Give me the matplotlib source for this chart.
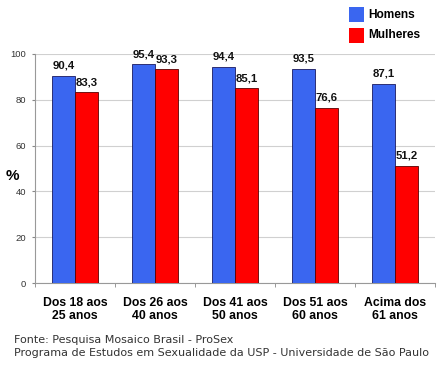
import matplotlib.pyplot as plt
import numpy as np
from matplotlib.patches import Rectangle

# Data
categories = ['Dos 18 aos\n25 anos', 'Dos 26 aos\n40 anos', 'Dos 41 aos\n50 anos',
              'Dos 51 aos\n60 anos', 'Acima dos\n61 anos']
homens = [90.4, 95.4, 94.4, 93.5, 87.1]
mulheres = [83.3, 93.3, 85.1, 76.6, 51.2]
series_names = ['Homens', 'Mulheres']
yticks = [0, 20, 40, 60, 80, 100]

blue = '#3a66f0'
red = '#ff0000'
font = 'Liberation Sans'

fig = plt.figure(figsize=(4.48, 3.72), dpi=100)
ax = fig.add_axes([0.078, 0.239, 0.893, 0.616])

x = np.arange(len(categories))
w = 0.285
ax.bar(x - w / 2, homens, w, color=blue, edgecolor='#1a1a60', linewidth=0.6, zorder=3)
ax.bar(x + w / 2, mulheres, w, color=red, edgecolor='#5a0000', linewidth=0.6, zorder=3)

# value labels
for xi, v in zip(x - w / 2, homens):
    ax.text(xi, v + 2.2, f'{v:.1f}'.replace('.', ','), ha='center', va='bottom',
            fontsize=8.2, fontweight='bold', family=font, color='#111111')
for xi, v in zip(x + w / 2, mulheres):
    ax.text(xi, v + 2.2, f'{v:.1f}'.replace('.', ','), ha='center', va='bottom',
            fontsize=8.2, fontweight='bold', family=font, color='#111111')

ax.set_xlim(-0.5, len(categories) - 0.5)
ax.set_ylim(0, 100)
ax.set_yticks(yticks)
ax.set_yticklabels([str(t) for t in yticks], fontsize=6.8, family=font, color='#333333')
ax.yaxis.grid(True, color='#d0d0d0', linewidth=0.8, zorder=0)
ax.tick_params(axis='y', length=2.5, color='#888888', pad=4)

ax.set_xticks(x)
ax.set_xticklabels(categories, fontsize=8.8, fontweight='bold', family=font,
                   linespacing=1.1)
ax.tick_params(axis='x', length=0, pad=10)
# small ticks at category boundaries
ax.set_xticks(np.arange(len(categories) + 1) - 0.5, minor=True)
ax.tick_params(axis='x', which='minor', length=3, color='#888888')

for s in ['top', 'right']:
    ax.spines[s].set_visible(False)
for s in ['left', 'bottom']:
    ax.spines[s].set_color('#999999')
    ax.spines[s].set_linewidth(0.8)

fig.text(6 / 448, 1 - 176 / 372, '%', fontsize=11, fontweight='bold', family=font,
         ha='left', va='center')

# legend at top right
for i, (name, c) in enumerate(zip(series_names, [blue, red])):
    y0 = 1 - (7 + i * 20.5) / 372
    fig.patches.append(Rectangle((349 / 448, y0 - 15 / 372), 15 / 448, 15 / 372,
                                 transform=fig.transFigure, facecolor=c,
                                 edgecolor='none', figure=fig))
    fig.text(368 / 448, y0 - 7.5 / 372, name, fontsize=8.6, fontweight='bold',
             family=font, ha='left', va='center')

fig.text(14 / 448, 1 - 340 / 372, 'Fonte: Pesquisa Mosaico Brasil - ProSex',
         fontsize=8.05, color='#333333', ha='left', va='center')
fig.text(14 / 448, 1 - 353 / 372,
         'Programa de Estudos em Sexualidade da USP - Universidade de São Paulo',
         fontsize=8.05, color='#333333', ha='left', va='center')

fig.savefig('out.png', dpi=100)
